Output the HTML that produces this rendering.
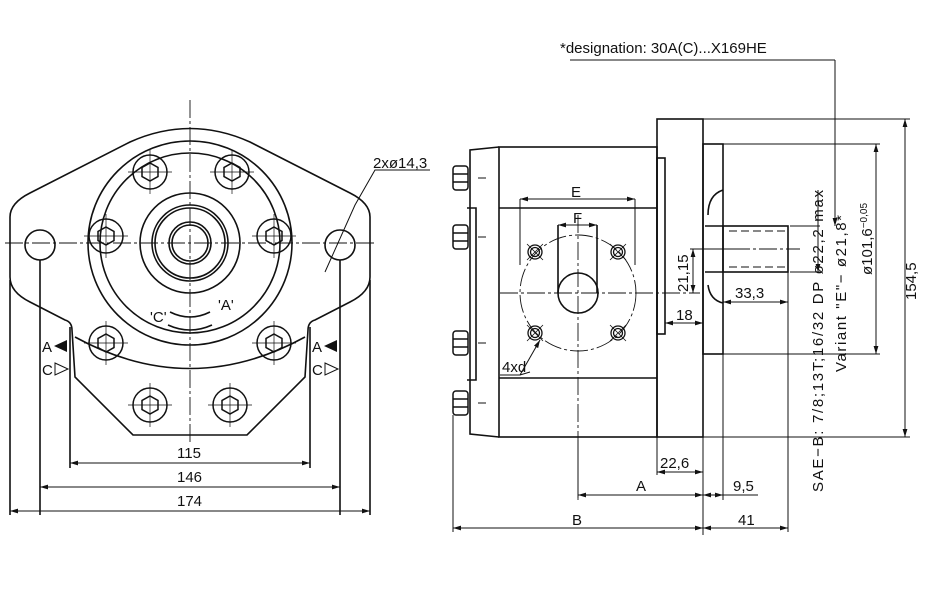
<!DOCTYPE html>
<html><head><meta charset="utf-8"><style>body{margin:0;background:#fff}svg{display:block}text{font-family:"Liberation Sans",sans-serif;font-size:15px;fill:#111}</style></head><body>
<svg width="933" height="602" viewBox="0 0 933 602" xmlns="http://www.w3.org/2000/svg">
<defs>
<marker id="a" viewBox="0 0 10 6" refX="10" refY="3" markerWidth="8" markerHeight="5" orient="auto-start-reverse"><path d="M0,0L10,3L0,6z" fill="#111"/></marker>
<g id="b" fill="none" stroke="#111" stroke-width="1.5"><circle r="17"/><path d="M0,-9L8,-4.5L8,4.5L0,9L-8,4.5L-8,-4.5Z"/><path d="M-22,0H22M0,-22V22" stroke-width="0.7"/></g>
<g id="s" fill="none" stroke="#111" stroke-width="1.3"><circle r="7"/><circle r="4.5"/><path d="M-8,-8L8,8M8,-8L-8,8" stroke-width="0.8"/></g>
<g id="h" fill="none" stroke="#111" stroke-width="1.5"><rect x="453" y="-12" width="15" height="24" rx="3"/><path d="M453,-4H468M453,4H468"/><path d="M478,0H486" stroke-width="1"/></g>
</defs>
<g fill="none" stroke="#111" stroke-width="1.6">
<path d="M10,217 Q10,203 30,193 L130,142 Q190,115 250,142 L350,193 Q370,203 370,217 L370,277 Q370,292 350,302 L315,320 Q308,322 308,330 L305,377 L247,435 L133,435 L75,377 L72,330 Q72,322 65,320 L30,302 Q10,292 10,277 Z"/>
<line x1="70" y1="327" x2="70" y2="375"/><line x1="310" y1="327" x2="310" y2="375"/>
<circle cx="190" cy="243" r="102"/><circle cx="190" cy="243" r="90"/>
<path d="M75,337 Q190,400 305,337"/>
<circle cx="190" cy="243" r="50"/><circle cx="190" cy="243" r="38"/><circle cx="190" cy="243" r="35"/><circle cx="190" cy="243" r="21"/><circle cx="190" cy="243" r="18"/>
<circle cx="40" cy="245" r="15"/><circle cx="340" cy="245" r="15"/>
<path d="M170,312 Q190,322 210,312 M168,325 Q190,335 212,325"/>
<path d="M40,260V515M340,260V515M10,280V515M370,280V515M70,375V468M310,375V468"/>
<path d="M325,272 L355,205 L375,170 L430,170" stroke-width="1"/>
</g>
<use href="#b" x="150" y="172"/><use href="#b" x="232" y="172"/><use href="#b" x="106" y="236"/><use href="#b" x="274" y="236"/><use href="#b" x="106" y="343"/><use href="#b" x="274" y="343"/><use href="#b" x="150" y="405"/><use href="#b" x="230" y="405"/>
<g stroke="#111" stroke-width="0.9" stroke-dasharray="18,3,3,3" fill="none">
<line x1="5" y1="243" x2="376" y2="243"/><line x1="190" y1="100" x2="190" y2="445"/>
<line x1="500" y1="293" x2="700" y2="293"/><line x1="578" y1="215" x2="578" y2="500"/>
<line x1="705" y1="249" x2="800" y2="249"/>
<circle cx="578" cy="293" r="58"/>
</g>
<g stroke="#111" stroke-width="1" fill="none">
<line x1="70" y1="463" x2="310" y2="463" marker-start="url(#a)" marker-end="url(#a)"/>
<line x1="40" y1="487" x2="340" y2="487" marker-start="url(#a)" marker-end="url(#a)"/>
<line x1="10" y1="511" x2="370" y2="511" marker-start="url(#a)" marker-end="url(#a)"/>
</g>
<path d="M55,340L68,346L55,352z" fill="#111" transform="rotate(180 61 346)"/><path d="M55,363L68,369L55,375z" fill="none" stroke="#111"/>
<path d="M325,340L338,346L325,352z" fill="#111" transform="rotate(180 331 346)"/><path d="M325,363L338,369L325,375z" fill="none" stroke="#111"/>
<text x="42" y="352">A</text><text x="42" y="375">C</text><text x="312" y="352">A</text><text x="312" y="375">C</text>
<text x="177" y="458">115</text><text x="177" y="482">146</text><text x="177" y="506">174</text>
<text x="373" y="168">2xø14,3</text>
<text x="150" y="322" font-size="10">'C'</text><text x="218" y="310" font-size="10">'A'</text>
<g fill="none" stroke="#111" stroke-width="1.6">
<rect x="657" y="119" width="46" height="318"/>
<rect x="499" y="147" width="158" height="290"/>
<path d="M499,147L470,150L470,434L499,437"/>
<line x1="499" y1="208" x2="657" y2="208"/><line x1="499" y1="378" x2="657" y2="378"/>
<rect x="657" y="158" width="8" height="176"/>
<rect x="703" y="144" width="20" height="210"/>
<rect x="723" y="226" width="65" height="46"/>
<line x1="705" y1="226" x2="723" y2="226"/><line x1="705" y1="272" x2="723" y2="272"/>
<path d="M723,190Q708,195 708,215M708,285Q710,300 723,303"/>
<circle cx="578" cy="293" r="20"/>
<path d="M558,225V293M597,225V293"/>
<path d="M467,208H476V380H467"/>
</g>
<g fill="none" stroke="#111" stroke-width="1">
<path d="M729,231H786M729,267H786" stroke-dasharray="8,4"/>
<path d="M453,415V532M657,437V475M703,437V535M723,354V500M788,272V532M578,440V498"/>
<path d="M520,265V199M635,265V199M703,119H910M723,144H880M723,354H880M703,437H910M790,226H820M790,272H820M690,249H745"/>
<path d="M530,372L520,375L500,375"/><path d="M835,60V210"/><path d="M570,60H835"/>
</g>
<use href="#s" x="535" y="252"/><use href="#s" x="618" y="252"/><use href="#s" x="535" y="333"/><use href="#s" x="618" y="333"/>
<use href="#h" y="178"/><use href="#h" y="237"/><use href="#h" y="343"/><use href="#h" y="403"/>
<g stroke="#111" stroke-width="1" fill="none">
<line x1="520" y1="199" x2="635" y2="199" marker-start="url(#a)" marker-end="url(#a)"/>
<line x1="558" y1="225" x2="597" y2="225" marker-start="url(#a)" marker-end="url(#a)"/>
<line x1="905" y1="119" x2="905" y2="437" marker-start="url(#a)" marker-end="url(#a)"/>
<line x1="876" y1="144" x2="876" y2="354" marker-start="url(#a)" marker-end="url(#a)"/>
<line x1="818" y1="190" x2="818" y2="272" marker-end="url(#a)"/>
<line x1="835" y1="200" x2="835" y2="226" marker-end="url(#a)"/>
<line x1="693" y1="249" x2="693" y2="293" marker-start="url(#a)" marker-end="url(#a)"/>
<line x1="723" y1="302" x2="788" y2="302" marker-start="url(#a)" marker-end="url(#a)"/>
<line x1="665" y1="323" x2="703" y2="323" marker-start="url(#a)" marker-end="url(#a)"/>
<line x1="657" y1="472" x2="703" y2="472" marker-start="url(#a)" marker-end="url(#a)"/>
<line x1="578" y1="495" x2="703" y2="495" marker-start="url(#a)" marker-end="url(#a)"/>
<line x1="703" y1="495" x2="723" y2="495" marker-start="url(#a)" marker-end="url(#a)"/>
<line x1="723" y1="495" x2="758" y2="495"/>
<line x1="453" y1="528" x2="703" y2="528" marker-start="url(#a)" marker-end="url(#a)"/>
<line x1="703" y1="528" x2="788" y2="528" marker-start="url(#a)" marker-end="url(#a)"/>
<line x1="520" y1="375" x2="540" y2="340" marker-end="url(#a)"/>
</g>
<text x="571" y="197">E</text><text x="573" y="223">F</text><text x="502" y="372">4xd</text>
<text x="735" y="298">33,3</text><text x="676" y="320">18</text>
<text x="660" y="468">22,6</text><text x="636" y="491">A</text><text x="733" y="491">9,5</text>
<text x="572" y="525">B</text><text x="738" y="525">41</text>
<text transform="translate(688,292) rotate(-90)">21,15</text>
<text transform="translate(916,300) rotate(-90)" font-size="16">154,5</text>
<text transform="translate(872,275) rotate(-90)">ø101,6<tspan font-size="10" dy="-5">−0,05</tspan></text>
<text transform="translate(823,492) rotate(-90)" textLength="302" lengthAdjust="spacing">SAE−B: 7/8;13T;16/32  DP  ø22,2  max</text>
<text transform="translate(846,372) rotate(-90)" textLength="157" lengthAdjust="spacing">Variant  "E"− ø21,8*</text>
<text x="560" y="53" font-size="16">*designation: 30A(C)...X169HE</text>
</svg>
</body></html>
